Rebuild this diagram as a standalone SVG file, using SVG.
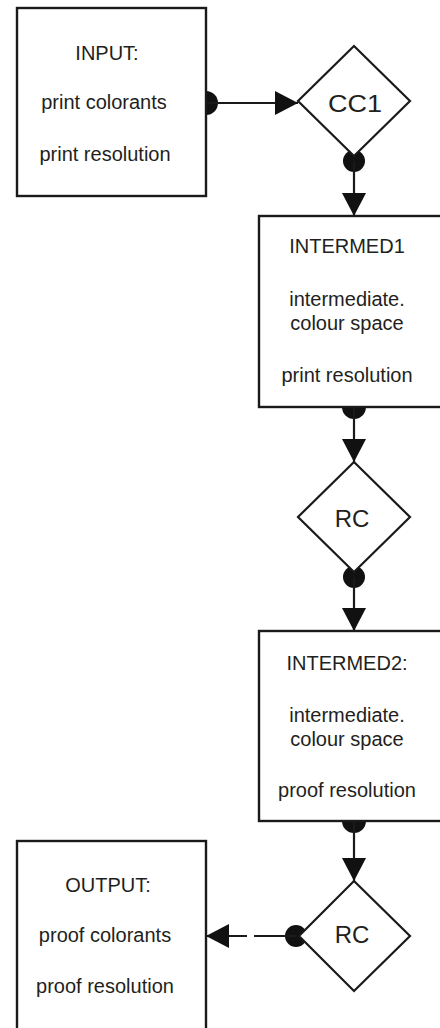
<svg xmlns="http://www.w3.org/2000/svg" width="440" height="1028" viewBox="0 0 440 1028">
<style>
.box{fill:#fff;stroke:#1a1a1a;stroke-width:2.4}
.dia{fill:#fff;stroke:#1a1a1a;stroke-width:2.2}
.ln{fill:none;stroke:#1a1a1a;stroke-width:2.2}
.dot{fill:#111}
.t{font-family:"Liberation Sans",Arial,sans-serif;font-size:20px;fill:#231f20;text-anchor:middle}
.d{font-family:"Liberation Sans",Arial,sans-serif;font-size:24px;fill:#231f20;text-anchor:middle}
</style>
<defs>
<marker id="arr" viewBox="0 0 23 24" refX="23" refY="12" markerWidth="23" markerHeight="24" orient="auto" markerUnits="userSpaceOnUse">
<path d="M0,0 L23,12 L0,24 z" fill="#111"/>
</marker>
</defs>
<rect width="440" height="1028" fill="#fff"/>
<g id="connectors">
<circle class="dot" cx="206" cy="103" r="12"/>
<path class="ln" d="M206,103 L298,103" marker-end="url(#arr)"/>
<circle class="dot" cx="354" cy="161" r="11"/>
<path class="ln" d="M354,161 L354,216" marker-end="url(#arr)"/>
<circle class="dot" cx="354" cy="407" r="12"/>
<path class="ln" d="M354,407 L354,462" marker-end="url(#arr)"/>
<circle class="dot" cx="354" cy="577" r="11"/>
<path class="ln" d="M354,577 L354,631" marker-end="url(#arr)"/>
<circle class="dot" cx="354" cy="821" r="12"/>
<path class="ln" d="M354,821 L354,881" marker-end="url(#arr)"/>
<circle class="dot" cx="296" cy="936" r="11"/>
<path class="ln" d="M296,936 L254,936"/>
<path class="ln" d="M247,936 L206,936" marker-end="url(#arr)"/>
</g>
<g id="input">
<rect class="box" x="17" y="8" width="189" height="188"/>
<text class="t" x="107" y="60">INPUT:</text>
<text class="t" x="104" y="109">print colorants</text>
<text class="t" x="105" y="161">print resolution</text>
</g>
<g id="cc1">
<path class="dia" d="M354,46 L410,101 L354,156 L298,101 z"/>
<text class="d" x="355" y="112" textLength="54" lengthAdjust="spacingAndGlyphs">CC1</text>
</g>
<g id="intermed1">
<rect class="box" x="259" y="216" width="200" height="191"/>
<text class="t" x="347" y="253">INTERMED1</text>
<text class="t" x="347" y="306">intermediate.</text>
<text class="t" x="347" y="330">colour space</text>
<text class="t" x="347" y="382">print resolution</text>
</g>
<g id="rc1">
<path class="dia" d="M354,462 L410,517 L354,572 L298,517 z"/>
<text class="d" x="352" y="527">RC</text>
</g>
<g id="intermed2">
<rect class="box" x="259" y="631" width="200" height="190"/>
<text class="t" x="347" y="670">INTERMED2:</text>
<text class="t" x="347" y="722">intermediate.</text>
<text class="t" x="347" y="746">colour space</text>
<text class="t" x="347" y="797">proof resolution</text>
</g>
<g id="rc2">
<path class="dia" d="M354,881 L410,936 L354,991 L299,936 z"/>
<text class="d" x="352" y="943">RC</text>
</g>
<g id="output">
<rect class="box" x="17" y="841" width="189" height="200"/>
<text class="t" x="108" y="892">OUTPUT:</text>
<text class="t" x="105" y="942">proof colorants</text>
<text class="t" x="105" y="993">proof resolution</text>
</g>
</svg>
